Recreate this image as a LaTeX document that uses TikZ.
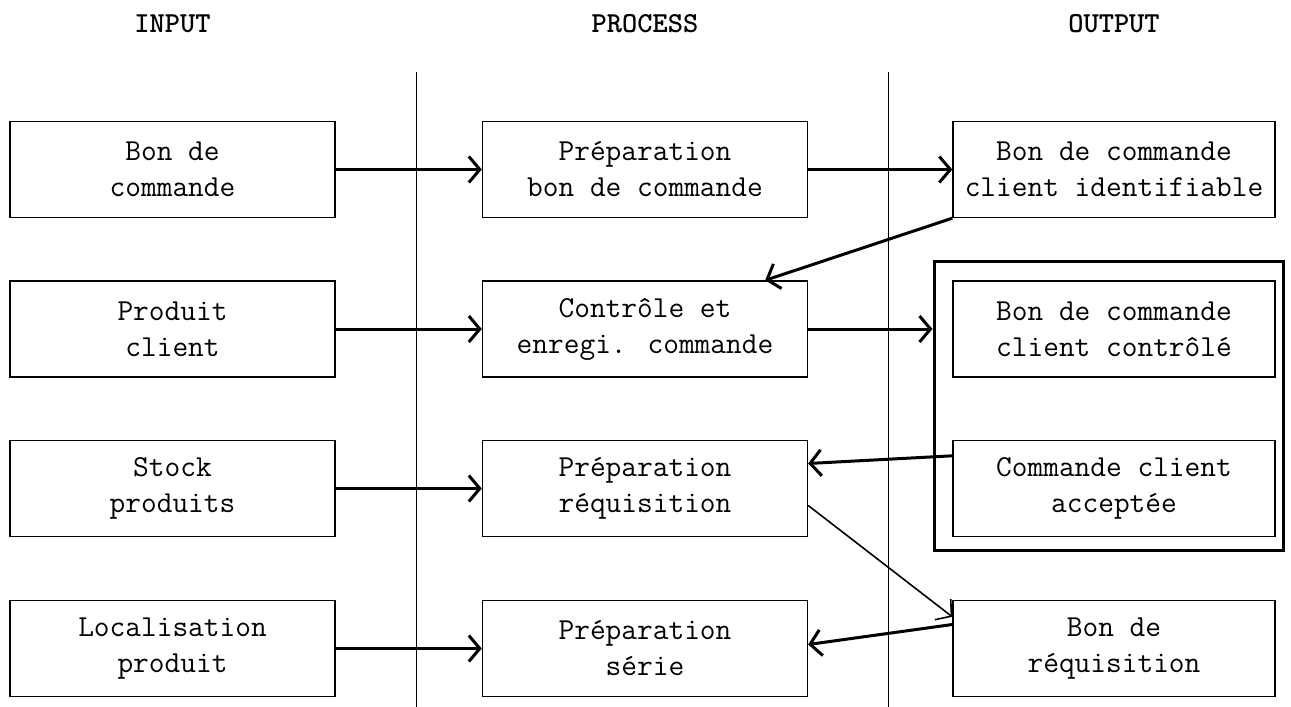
\documentclass[tikz,border=0pt]{standalone}
\usepackage{fontspec}
\usetikzlibrary{calc,arrows.meta}
\tikzset{
	box/.style={draw, line width=1.4pt, rectangle, minimum width=325pt, minimum height=96pt, align=center, inner sep=0pt, font=\ttfamily\fontsize{30.5}{36}\selectfont},
	head/.style={font=\ttfamily\bfseries\fontsize{29}{32}\selectfont},
	flow/.style={line width=3pt, -{Straight Barb[length=11pt,width=26pt]}},
	thinflow/.style={line width=1.6pt, -{Straight Barb[length=11pt,width=26pt]}},
	divider/.style={line width=1pt},
}

\begin{document}
\begin{tikzpicture}[x=1pt, y=-1pt]
		%%%%% START %%%%%
		\useasboundingbox (0, 0) rectangle (1291, 707);
		
		\node[head] (hin) at (172.5, 24) {INPUT};
		\node[head] (hproc) at (645, 24) {PROCESS};
		\node[head] (hout) at (1114, 24) {OUTPUT};
		
		\draw[divider] (416, 72) -- (416, 707);
		\draw[divider] (888, 72) -- (888, 707);
		
		% input column
		\node[box] (i1) at (172.5, 169.5) {Bon de\\commande};
		\node[box] (i2) at (172.5, 329) {Produit\\client};
		\node[box] (i3) at (172.5, 488.5) {Stock\\produits};
		\node[box] (i4) at (172.5, 648.5) {Localisation\\produit};
		
		% process column
		\node[box] (p1) at (645, 169.5) {Préparation\\bon de commande};
		\node[box] (p2) at (645, 329) {Contrôle et\\enregi. commande};
		\node[box] (p3) at (645, 488.5) {Préparation\\réquisition};
		\node[box] (p4) at (645, 648.5) {Préparation\\série};
		
		% output column
		\node[box, minimum width=322pt] (o1) at (1114, 169.5) {Bon de commande\\client identifiable};
		\node[box, minimum width=322pt] (o2) at (1114, 329) {Bon de commande\\client contrôlé};
		\node[box, minimum width=322pt] (o3) at (1114, 488.5) {Commande client\\acceptée};
		\node[box, minimum width=322pt] (o4) at (1114, 648.5) {Bon de\\réquisition};
		
		\node[draw, line width=3pt, minimum width=349pt, minimum height=289pt, inner sep=0pt] (grp) at (1108.5, 405.5) {};
		
		\draw[flow] (i1.east) -- (p1.west);
		\draw[flow] (i2.east) -- (p2.west);
		\draw[flow] (i3.east) -- (p3.west);
		\draw[flow] (i4.east) -- (p4.west);
		
		\draw[flow] (p1.east) -- (o1.west);
		\draw[flow] (o1.south west) -- ($(p2.north east)+(-43, 0)$);
		\draw[flow] (p2.east) -- (p2.east -| grp.west);
		\draw[flow] ($(o3.north west)+(0, 16)$) -- ($(p3.east)+(0, -25)$);
		\draw[thinflow] ($(p3.east)+(0, 17)$) -- ($(o4.north west)+(0, 17)$);
		\draw[flow] ($(o4.west)+(0, -24)$) -- ($(p4.east)+(0, -4)$);
		
		%%%%% END %%%%%
	\end{tikzpicture}
\end{document}
